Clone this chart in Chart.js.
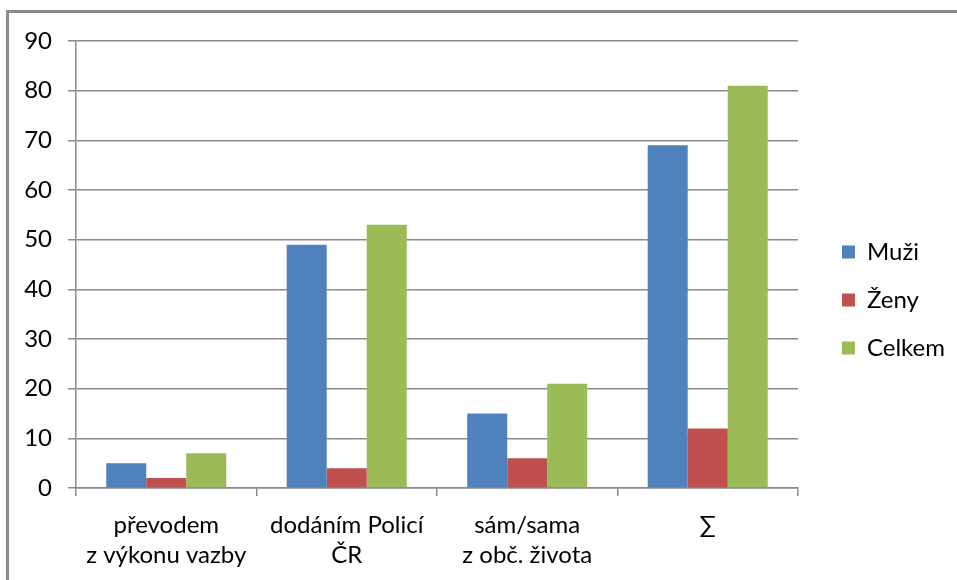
<!DOCTYPE html>
<html>
<head>
<meta charset="utf-8">
<script src="https://cdn.jsdelivr.net/npm/chart.js@4.4.1/dist/chart.umd.min.js"></script>
<style>
  html, body { margin: 0; padding: 0; background: #fff; }
  #wrap { position: relative; width: 957px; height: 580px; overflow: hidden; }
  #frame { position: absolute; left: 6px; top: 10px; width: 2000px; height: 2000px;
           border-left: 3px solid #8c8c8c; border-top: 3px solid #8c8c8c; box-sizing: border-box; }
  canvas { position: absolute; left: 0; top: 0; }
</style>
</head>
<body>
<div id="wrap">
  <div id="frame"></div>
  <canvas id="c" width="957" height="580"></canvas>
</div>
<script>
const categories = [
  ["převodem", "z výkonu vazby"],
  ["dodáním Policí", "ČR"],
  ["sám/sama", "z obč. života"],
  ["∑"]
];
const seriesNames = ["Muži", "Ženy", "Celkem"];
const muzi = [5, 49, 15, 69];
const zeny = [2, 4, 6, 12];
const celkem = [7, 53, 21, 81];
const yTicks = [0, 10, 20, 30, 40, 50, 60, 70, 80, 90];

const colors = ["#4F81BD", "#C0504D", "#9BBB59"];
const FONT = "Lato, 'Liberation Sans', sans-serif";
const FS = 24;

new Chart(document.getElementById("c"), {
  type: "bar",
  data: {
    labels: categories,
    datasets: [muzi, zeny, celkem].map((d, i) => ({
      label: seriesNames[i],
      data: d,
      backgroundColor: colors[i],
      borderWidth: 0,
      categoryPercentage: 0.665,
      barPercentage: 1.0
    }))
  },
  options: {
    responsive: false,
    animation: false,
    devicePixelRatio: 1,
    layout: { padding: { top: 41, bottom: 0, left: 0, right: 2 } },
    plugins: {
      tooltip: { enabled: false },
      legend: {
        position: "right",
        align: "center",
        fullSize: false,
        title: { display: true, text: "", padding: 0, font: { size: 1, lineHeight: "71px" } },
        labels: {
          boxWidth: 13,
          boxHeight: 13,
          padding: 24,
          color: "#000",
          font: { family: FONT, size: FS }
        }
      }
    },
    scales: {
      x: {
        grid: { display: true, drawOnChartArea: false, drawTicks: true, tickLength: 8,
                color: "#8a8a8a", lineWidth: 1.5, offset: true },
        border: { display: true, color: "#8a8a8a", width: 1.5 },
        ticks: { color: "#000", font: { family: FONT, size: FS, lineHeight: 1.25 }, padding: 14,
                 maxRotation: 0, autoSkip: false },
        afterFit: s => { s.height = 580 - 488; }
      },
      y: {
        min: 0, max: 90,
        afterBuildTicks: s => { s.ticks = yTicks.map(v => ({ value: v })); },
        grid: { color: "#8a8a8a", lineWidth: 1.5, drawTicks: true, tickLength: 8 },
        border: { display: true, color: "#8a8a8a", width: 1.5 },
        ticks: { color: "#000", font: { family: FONT, size: FS }, padding: 16 },
        afterFit: s => { s.width = 76; }
      },
      spacer: {
        position: "right",
        display: true,
        grid: { display: false, drawTicks: false },
        border: { display: false },
        ticks: { display: false },
        afterFit: s => { s.width = 20; }
      }
    }
  }
});
</script>
</body>
</html>
